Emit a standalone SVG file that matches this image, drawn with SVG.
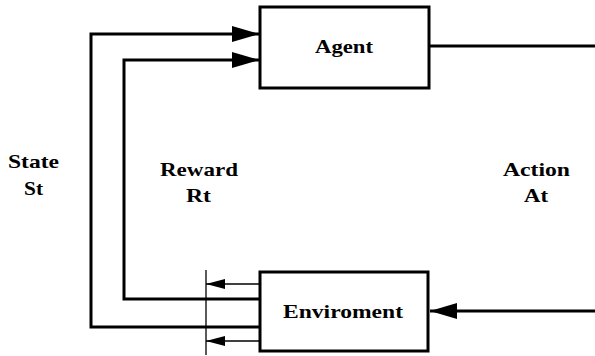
<svg xmlns="http://www.w3.org/2000/svg" width="595" height="356" viewBox="0 0 595 356">
  <style>
    .box { fill: #fff; stroke: #000; stroke-width: 3; }
    .wire { fill: none; stroke: #000; stroke-width: 3; }
    .thin { fill: none; stroke: #000; stroke-width: 1.3; }
    .lbl { font-family: 'Liberation Serif', Tinos, 'Times New Roman', Times, serif; font-weight: 700; font-size: 19.5px; fill: #000; text-anchor: middle; }
  </style>
  <defs>
    <marker id="bigHead" markerUnits="userSpaceOnUse" markerWidth="28" markerHeight="18" refX="27" refY="8" orient="auto">
      <path d="M0,0 L27,8 L0,16 Z" fill="#000"/>
    </marker>
    <marker id="smallHead" markerUnits="userSpaceOnUse" markerWidth="20" markerHeight="12" refX="19" refY="5" orient="auto">
      <path d="M0,0 L19,5 L0,10 Z" fill="#000"/>
    </marker>
  </defs>

  <g id="connectors">
    <!-- state feedback: environment to agent (outer loop) -->
    <path class="wire" d="M259,327 H91 V34 H259" marker-end="url(#bigHead)"/>
    <!-- reward feedback: environment to agent (inner loop) -->
    <path class="wire" d="M259,299 H124 V60 H259" marker-end="url(#bigHead)"/>
    <!-- action: agent out to environment in -->
    <path class="wire" d="M429,46 H595"/>
    <path class="wire" d="M595,311 H430" marker-end="url(#bigHead)"/>
    <!-- sampling bar with small output arrows -->
    <path class="thin" d="M206,270 V355"/>
    <path class="thin" d="M259,284 H206" marker-end="url(#smallHead)"/>
    <path class="thin" d="M259,341 H206" marker-end="url(#smallHead)"/>
  </g>

  <g id="agent">
    <rect class="box" x="260" y="7" width="169" height="81"/>
    <text class="lbl" font-family="Liberation Serif" x="344" y="53" textLength="58" lengthAdjust="spacingAndGlyphs">Agent</text>
  </g>

  <g id="environment">
    <rect class="box" x="260" y="272" width="168" height="79"/>
    <text class="lbl" x="343" y="318" textLength="120" lengthAdjust="spacingAndGlyphs">Enviroment</text>
  </g>

  <g id="state-label">
    <text class="lbl" x="33.5" y="168" textLength="51" lengthAdjust="spacingAndGlyphs">State</text>
    <text class="lbl" x="33.5" y="195" textLength="19" lengthAdjust="spacingAndGlyphs">St</text>
  </g>

  <g id="reward-label">
    <text class="lbl" x="199" y="176" textLength="78" lengthAdjust="spacingAndGlyphs">Reward</text>
    <text class="lbl" x="198.5" y="202" textLength="25" lengthAdjust="spacingAndGlyphs">Rt</text>
  </g>

  <g id="action-label">
    <text class="lbl" x="536.5" y="176" textLength="67" lengthAdjust="spacingAndGlyphs">Action</text>
    <text class="lbl" x="536" y="202" textLength="24" lengthAdjust="spacingAndGlyphs">At</text>
  </g>
</svg>
